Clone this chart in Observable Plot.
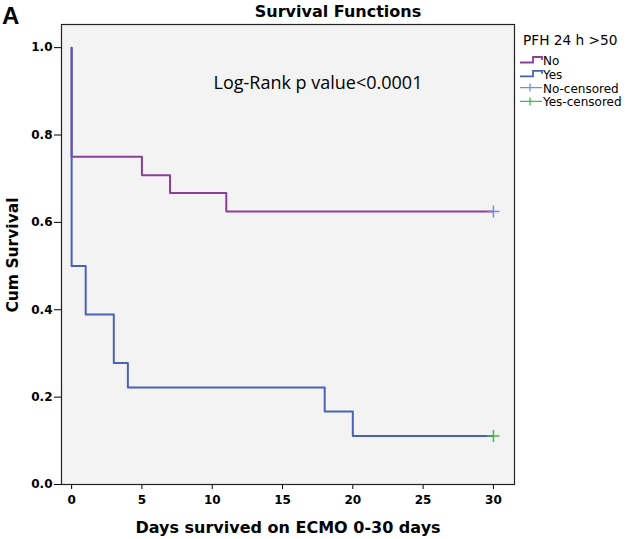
<!DOCTYPE html>
<html>
<head>
<meta charset="utf-8">
<script src="https://cdn.jsdelivr.net/npm/d3@7"></script>
<script src="https://cdn.jsdelivr.net/npm/@observablehq/plot@0.6"></script>
<style>
  html, body { margin: 0; padding: 0; background: #fff; }
  #chart { width: 625px; height: 539px; }
</style>
</head>
<body>
<div id="chart"></div>
<script>
// Kaplan-Meier step data (time in days, cumulative survival)
const noTimes = [0, 0, 5, 7, 11, 30];
const noSurv  = [1.0, 0.75, 0.708, 0.667, 0.625, 0.625];
const yesTimes = [0, 0, 1, 3, 4, 18, 20, 30];
const yesSurv  = [1.0, 0.5, 0.389, 0.278, 0.222, 0.167, 0.111, 0.111];
const censoredNo = [{t: 30, s: 0.625}];
const censoredYes = [{t: 30, s: 0.111}];
const xTicks = [0, 5, 10, 15, 20, 25, 30];
const yTicks = [0, 0.2, 0.4, 0.6, 0.8, 1.0];
const legendTitle = "PFH 24 h >50";
const legendLabels = ["No", "Yes", "No-censored", "Yes-censored"];

const purple = "#8c3f98";
const blue = "#4a62b6";
const censNoColor = "#6f8fd8";
const censYesColor = "#44b84a";

const noData = noTimes.map((t, i) => ({t, s: noSurv[i]}));
const yesData = yesTimes.map((t, i) => ({t, s: yesSurv[i]}));

const W = 625, H = 539;
const chart = Plot.plot({
  width: W, height: H,
  marginLeft: 61, marginRight: 111, marginTop: 24, marginBottom: 55,
  style: {fontFamily: "DejaVu Sans", fontSize: "12px", fontWeight: "bold", background: "#fff", color: "#000"},
  x: {domain: [-0.72, 31.5], ticks: xTicks, label: null},
  y: {domain: [0, 1.053], ticks: yTicks, tickFormat: d3.format(".1f"), label: null},
  marks: [
    Plot.frame({fill: "#f3f3f3", stroke: "none"}),
    Plot.axisX({ticks: xTicks, tickSize: 5, tickPadding: 6, label: null, stroke: "#000"}),
    Plot.axisY({ticks: yTicks, tickSize: 7, tickPadding: 2, label: null, tickFormat: d3.format(".1f"), stroke: "#000"}),
    Plot.line(noData, {x: "t", y: "s", curve: "step-after", stroke: purple, strokeWidth: 2}),
    Plot.line(yesData, {x: "t", y: "s", curve: "step-after", stroke: blue, strokeWidth: 2}),
    Plot.dot(censoredNo, {x: "t", y: "s", symbol: "plus", r: 4, stroke: censNoColor, strokeWidth: 1.5}),
    Plot.dot(censoredYes, {x: "t", y: "s", symbol: "plus", r: 4, stroke: censYesColor, strokeWidth: 1.5}),
    Plot.frame({stroke: "#222", strokeWidth: 1.2}),
    Plot.text(["Log-Rank p value<0.0001"], {frameAnchor: "top-left", dx: 152, dy: 52, textAnchor: "start", fontSize: 18, fontWeight: "normal", fontFamily: "Open Sans"})
  ]
});
document.getElementById("chart").appendChild(chart);

const svg = d3.select(chart);
svg.append("text").attr("x", 2).attr("y", 24).attr("text-anchor", "start").attr("font-family", "Liberation Sans").attr("font-size", 24).attr("font-weight", "bold").text("A");
svg.append("text").attr("x", 338).attr("y", 17).attr("text-anchor", "middle").attr("font-family", "DejaVu Sans").attr("font-size", 16).attr("font-weight", "bold").text("Survival Functions");
svg.append("text").attr("x", 288).attr("y", 533).attr("text-anchor", "middle").attr("font-family", "DejaVu Sans").attr("font-size", 16).attr("font-weight", "bold").text("Days survived on ECMO 0-30 days");
svg.append("text").attr("transform", "translate(18,255) rotate(-90)").attr("text-anchor", "middle").attr("font-family", "DejaVu Sans").attr("font-size", 15.5).attr("font-weight", "bold").text("Cum Survival");

// legend
const lg = svg.append("g").attr("font-family", "DejaVu Sans").attr("font-weight", "normal").attr("text-anchor", "start");
lg.append("text").attr("x", 523).attr("y", 45).attr("font-size", 13.7).text(legendTitle);
const items = [
  {label: legendLabels[0], color: purple, type: "step"},
  {label: legendLabels[1], color: blue, type: "step"},
  {label: legendLabels[2], color: censNoColor, type: "plus"},
  {label: legendLabels[3], color: censYesColor, type: "plus"}
];
items.forEach((d, i) => {
  const b = 65 + i * 13.8;
  if (d.type === "step") {
    lg.append("path").attr("d", `M520,${b-2.5}H533V${b-8}H542V${b-5}`).attr("fill", "none").attr("stroke", d.color).attr("stroke-width", 1.8);
  } else {
    lg.append("path").attr("d", `M520,${b-5}H542M530,${b-9}V${b-1}`).attr("fill", "none").attr("stroke", d.color).attr("stroke-width", 1.3);
  }
  lg.append("text").attr("x", 543).attr("y", b).attr("font-size", 12).text(d.label);
});
</script>
</body>
</html>
